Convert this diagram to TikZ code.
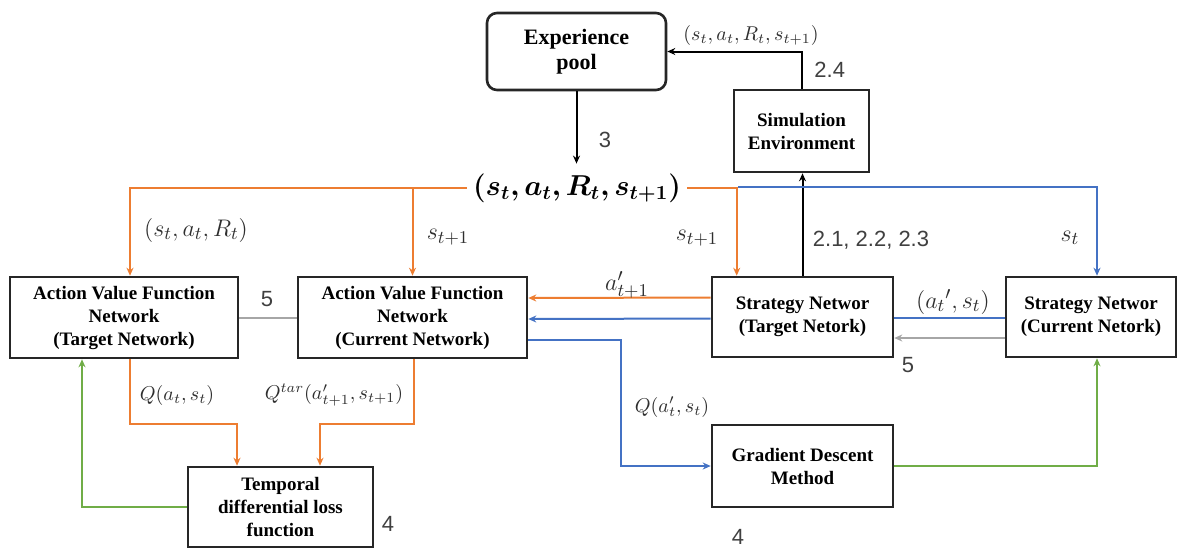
\documentclass[tikz,border=0pt]{standalone}
\usepackage{fontspec}
\setmainfont{Liberation Serif}
\newfontfamily\numfont{Liberation Sans}
\usepackage{amsmath,bm}
\usetikzlibrary{arrows.meta}
\definecolor{orgC}{HTML}{ED7D31}
\definecolor{bluC}{HTML}{4472C4}
\definecolor{grnC}{HTML}{70AD47}
\definecolor{gryC}{HTML}{A6A6A6}
\definecolor{txtC}{HTML}{2E2E2E}
\definecolor{numC}{HTML}{404040}
\begin{document}
\begin{tikzpicture}[x=0.5pt,y=-0.5pt,
 box/.style={draw=black!85,line width=1.3pt,fill=white,align=center,inner sep=2pt,font={\fontsize{9.5}{11.5}\selectfont\bfseries}},
 conn/.style={line width=1pt,-{Stealth[length=4pt,width=3.5pt]}},
 plainline/.style={line width=1pt},
 mlab/.style={text=txtC,inner sep=0pt,font={\fontsize{12.5}{14}\selectfont}},
 slab/.style={text=txtC,inner sep=0pt,font={\fontsize{10}{12}\selectfont}},
 nlab/.style={text=numC,inner sep=0pt,font={\numfont\fontsize{11}{13}\selectfont}},
]
\useasboundingbox[fill=white] (0,0) rectangle (1178,548);

% boxes
\node[box,rounded corners=5pt,minimum width=89.5pt,minimum height=38.5pt,font={\fontsize{11}{12.5}\selectfont\bfseries}] (Exp) at (576.5,51.5) {Experience\\pool};
\node[box,minimum width=67.5pt,minimum height=41pt] (Sim) at (801.5,131) {Simulation\\Environment};
\node[box,minimum width=114pt,minimum height=40.5pt] (AVT) at (124,317.5) {Action Value Function\\Network\\(Target Network)};
\node[box,minimum width=114.5pt,minimum height=40.5pt] (AVC) at (412.5,317.5) {Action Value Function\\Network\\(Current Network)};
\node[box,minimum width=90.5pt,minimum height=40pt] (ST) at (802.5,317) {Strategy Networ\\(Target Netork)};
\node[box,minimum width=85pt,minimum height=40pt] (SC) at (1091,317) {Strategy Networ\\(Current Netork)};
\node[box,minimum width=92.5pt,minimum height=40pt] (Temp) at (280.5,507) {Temporal\\differential loss\\function};
\node[box,minimum width=90.5pt,minimum height=41pt] (GD) at (802.5,466) {Gradient Descent\\Method};

% central sample label
\node[inner sep=0pt,minimum width=110pt,minimum height=24pt,font={\fontsize{14}{16}\selectfont}] (trip) at (577,188) {$\bm{(s_t,a_t,R_t,s_{t+1})}$};
\coordinate (jn) at (738,187);

% black
\draw[conn] (Sim.north) |- (Exp.east);
\draw[conn] (Exp.south) -- (Exp.south |- trip.north);
\draw[conn] (ST.north) -- (ST.north |- Sim.south);

% orange
\draw[conn,orgC] (trip.west) -| ([xshift=3pt]AVT.north);
\draw[conn,orgC] (AVC.north |- trip.west) -- (AVC.north);
\draw[conn,orgC] (trip.east) -| ([xshift=13pt]ST.north west);
\draw[conn,orgC] ([yshift=9.75pt]ST.west) -- ([yshift=9.75pt]AVC.east);
\draw[conn,orgC] ([xshift=3pt]AVT.south) -- ++(0,65) -| ([xshift=-21.75pt]Temp.north);
\draw[conn,orgC] ([xshift=0.75pt]AVC.south) -- ++(0,65) -| ([xshift=19.75pt]Temp.north);

% blue
\draw[conn,bluC] (jn) -| ([xshift=3pt]SC.north);
\draw[conn,bluC] ([yshift=-0.75pt]ST.west) -- ([yshift=-0.75pt]AVC.east);
\draw[plainline,bluC] ([yshift=-0.5pt]SC.west) -- ([yshift=-0.5pt]ST.east);
\draw[conn,bluC] ([yshift=-11pt]AVC.east) -- ++(93,0) |- (GD.west);

% gray
\draw[conn,gryC] ([yshift=-10.5pt]SC.west) -- ([yshift=-10.5pt]ST.east);
\draw[plainline,gryC] ([yshift=-0.25pt]AVT.east) -- ([yshift=-0.25pt]AVC.west);

% green
\draw[conn,grnC] (Temp.west) -| ([xshift=-21pt]AVT.south);
\draw[conn,grnC] (GD.east) -| ([xshift=3pt]SC.south);

% labels
\node[slab] (l1) at (751,35) {$(s_t,a_t,R_t,s_{t+1})$};
\node[nlab,anchor=west] (l2) at (814,70) {2.4};
\node[nlab] (l3) at (605,140) {3};
\node[mlab] (l4) at (196,230) {$(s_t,a_t,R_t)$};
\node[mlab] (l5) at (448,237) {$s_{t+1}$};
\node[mlab] (l6) at (697,238) {$s_{t+1}$};
\node[nlab] (l7) at (871,240) {2.1, 2.2, 2.3};
\node[mlab] (l8) at (1070,238) {$s_t$};
\node[mlab] (l9) at (627,285) {$a'_{t+1}$};
\node[nlab] (l10) at (267,299) {5};
\node[mlab] (l11) at (953,302) {$(a_t{}',s_t)$};
\node[nlab] (l12) at (908,365) {5};
\node[slab] (l13) at (177,395) {$Q(a_t,s_t)$};
\node[slab] (l14) at (334,395) {$Q^{tar}(a'_{t+1},s_{t+1})$};
\node[slab] (l15) at (672,407) {$Q(a'_t,s_t)$};
\node[nlab] (l16) at (388,524) {4};
\node[nlab] (l17) at (738,537) {4};
\end{tikzpicture}
\end{document}
